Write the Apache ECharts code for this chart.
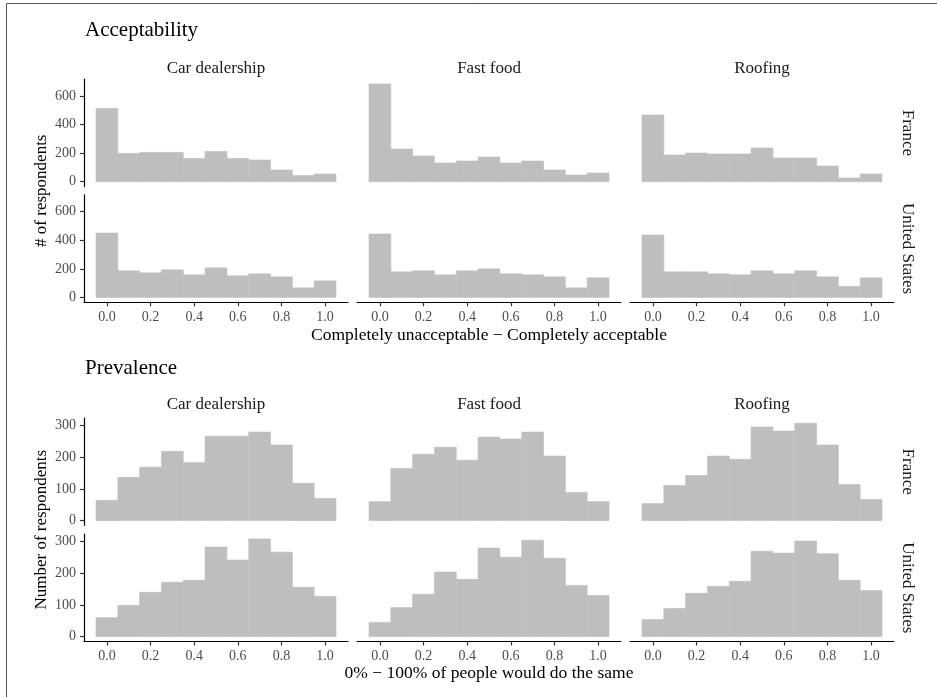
<!DOCTYPE html>
<html>
<head>
<meta charset="utf-8">
<style>
  html, body { margin: 0; padding: 0; background: #fff; }
  #chart { width: 937px; height: 697px; }
</style>
<script src="https://cdn.jsdelivr.net/npm/echarts@6/dist/echarts.min.js"></script>
</head>
<body>
<div id="chart"></div>
<script>
// bin centres (bin width 0.1, from -0.05 to 1.05)
const binCenters = [0, 0.1, 0.2, 0.3, 0.4, 0.5, 0.6, 0.7, 0.8, 0.9, 1.0];
const binWidth = 0.1;
const xTicks = [0, 0.2, 0.4, 0.6, 0.8, 1.0];

const businesses = ["Car dealership", "Fast food", "Roofing"];
const countries = ["France", "United States"];

// Acceptability counts
const accFranceCar = [513, 198, 205, 205, 163, 212, 163, 152, 82, 44, 54];
const accFranceFast = [684, 229, 180, 131, 145, 173, 131, 145, 82, 47, 61];
const accFranceRoof = [467, 187, 201, 194, 194, 236, 166, 166, 110, 26, 54];
const accUSCar = [451, 186, 172, 193, 158, 207, 151, 165, 144, 67, 116];
const accUSFast = [444, 179, 186, 158, 186, 200, 165, 158, 144, 67, 137];
const accUSRoof = [437, 179, 179, 165, 158, 186, 165, 186, 144, 77, 137];
const accYTicks = [0, 200, 400, 600];

// Prevalence counts
const prevFranceCar = [64, 137, 169, 219, 184, 267, 267, 280, 239, 118, 70];
const prevFranceFast = [60, 165, 210, 232, 191, 264, 258, 280, 204, 89, 60];
const prevFranceRoof = [54, 111, 143, 204, 194, 296, 283, 308, 239, 114, 67];
const prevUSCar = [60, 99, 140, 172, 178, 283, 242, 309, 267, 156, 127];
const prevUSFast = [45, 92, 134, 204, 181, 280, 251, 305, 248, 162, 130];
const prevUSRoof = [54, 89, 137, 159, 175, 270, 264, 302, 262, 178, 146];
const prevYTicks = [0, 100, 200, 300];

const sections = [
  {
    title: "Acceptability",
    xTitle: "Completely unacceptable \u2212 Completely acceptable",
    yTitle: "# of respondents",
    yTicks: accYTicks,
    rows: [
      [accFranceCar, accFranceFast, accFranceRoof],
      [accUSCar, accUSFast, accUSRoof],
    ],
  },
  {
    title: "Prevalence",
    xTitle: "0% \u2212 100% of people would do the same",
    yTitle: "Number of respondents",
    yTicks: prevYTicks,
    rows: [
      [prevFranceCar, prevFranceFast, prevFranceRoof],
      [prevUSCar, prevUSFast, prevUSRoof],
    ],
  },
];

// layout
const FONT = "Liberation Serif, Times New Roman, serif";
const BAR = "#bebebe";
const colLeft = [84, 357, 630];
const panelW = 264;
const panelH = 107.5;
const sectionLayout = [
  { titleY: 30.5, stripY: 69, rowTop: [79.1, 194.8], xTitleY: 335 },
  { titleY: 368, stripY: 405, rowTop: [418, 534], xTitleY: 673 },
];
const stripRightX = 907;

const grids = [], xAxes = [], yAxes = [], series = [], graphics = [];

graphics.push({
  type: "rect", shape: { x: 6.5, y: 3.5, width: 2000, height: 2000 },
  style: { fill: null, stroke: "#555", lineWidth: 1 }, silent: true,
});

sections.forEach((sec, si) => {
  const lay = sectionLayout[si];
  const allVals = sec.rows.flat(2);
  const yMax = Math.max(...allVals);
  const yLo = -yMax * 0.05, yHi = yMax * 1.05;

  graphics.push({
    type: "text", x: 85, y: lay.titleY,
    style: { text: sec.title, font: `21px ${FONT}`, fill: "#000", textAlign: "left", textVerticalAlign: "middle" },
  });
  businesses.forEach((b, ci) => {
    graphics.push({
      type: "text", x: colLeft[ci] + panelW / 2, y: lay.stripY,
      style: { text: b, font: `17px ${FONT}`, fill: "#1a1a1a", textAlign: "center", textVerticalAlign: "middle" },
    });
  });
  countries.forEach((c, ri) => {
    graphics.push({
      type: "text", x: stripRightX, y: lay.rowTop[ri] + panelH / 2, rotation: -Math.PI / 2,
      style: { text: c, font: `17px ${FONT}`, fill: "#1a1a1a", textAlign: "center", textVerticalAlign: "middle" },
    });
  });
  graphics.push({
    type: "text", x: 42, y: (lay.rowTop[0] + lay.rowTop[1] + panelH) / 2, rotation: Math.PI / 2,
    style: { text: sec.yTitle, font: `17px ${FONT}`, fill: "#000", textAlign: "center", textVerticalAlign: "middle" },
  });
  graphics.push({
    type: "text", x: colLeft[0] + (colLeft[2] + panelW - colLeft[0]) / 2, y: lay.xTitleY,
    style: { text: sec.xTitle, font: `17.5px ${FONT}`, fill: "#000", textAlign: "center", textVerticalAlign: "middle" },
  });

  sec.rows.forEach((row, ri) => {
    row.forEach((vals, ci) => {
      const idx = grids.length;
      const bottomRow = ri === sec.rows.length - 1;
      const leftCol = ci === 0;
      grids.push({ left: colLeft[ci], top: lay.rowTop[ri], width: panelW, height: panelH });
      xAxes.push({
        type: "value", gridIndex: idx, min: -0.105, max: 1.105,
        splitLine: { show: false },
        axisLine: { show: bottomRow, onZero: false, lineStyle: { color: "#000", width: 1.2 } },
        axisTick: { show: bottomRow, customValues: xTicks, length: 4, lineStyle: { color: "#333", width: 1.2 } },
        axisLabel: {
          show: bottomRow, customValues: xTicks, margin: 8,
          formatter: (v) => v.toFixed(1), color: "#4d4d4d", fontFamily: FONT, fontSize: 14,
        },
      });
      yAxes.push({
        type: "value", gridIndex: idx, min: yLo, max: yHi,
        splitLine: { show: false },
        axisLine: { show: leftCol, onZero: false, lineStyle: { color: "#000", width: 1.2 } },
        axisTick: { show: leftCol, customValues: sec.yTicks, length: 4, lineStyle: { color: "#333", width: 1.2 } },
        axisLabel: {
          show: leftCol, customValues: sec.yTicks, margin: 8,
          color: "#4d4d4d", fontFamily: FONT, fontSize: 14,
        },
      });
      series.push({
        type: "custom", xAxisIndex: idx, yAxisIndex: idx,
        data: binCenters.map((x, k) => [x, vals[k]]),
        renderItem: (params, api) => {
          const x = api.value(0), y = api.value(1);
          const p0 = api.coord([x - binWidth / 2, y]);
          const p1 = api.coord([x + binWidth / 2, 0]);
          return {
            type: "rect",
            shape: { x: p0[0], y: p0[1], width: p1[0] - p0[0], height: p1[1] - p0[1] },
            style: { fill: BAR, stroke: BAR, lineWidth: 0.6 },
          };
        },
        silent: true,
      });
    });
  });
});

const chart = echarts.init(document.getElementById("chart"));
chart.setOption({
  animation: false,
  backgroundColor: "#fff",
  grid: grids,
  xAxis: xAxes,
  yAxis: yAxes,
  series: series,
  graphic: graphics,
});
</script>
</body>
</html>
